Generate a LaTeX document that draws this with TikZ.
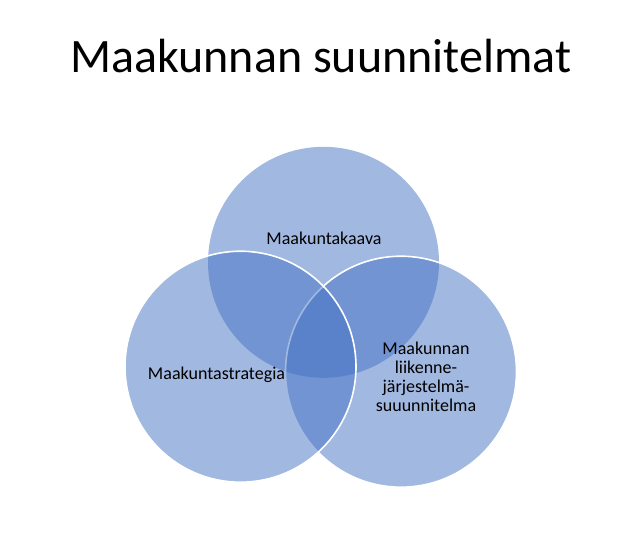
\documentclass[tikz,border=0pt]{standalone}
\usepackage{fontspec}
\setmainfont{Carlito}
\definecolor{vennblue}{HTML}{4472C4}
\begin{document}
\begin{tikzpicture}[x=1pt,y=-1pt,
  venn/.style={circle, inner sep=0pt, outer sep=0pt, minimum size=231pt, fill=vennblue, fill opacity=0.5},
  vennline/.style={draw=white, line width=1.6pt},
  lbl/.style={font=\fontsize{18}{19.2}\selectfont, text=black, inner sep=0pt}]
\useasboundingbox (0,0) rectangle (640,546);
\fill[white] (0,0) rectangle (640,546);
\node[font=\fontsize{48}{58}\selectfont, anchor=base, inner sep=0pt] (title) at (320.7,72) {Maakunnan suunnitelmat};
\node[venn] (top) at (323.5,262.3) {};
\node[venn, vennline] (right) at (401,371.7) {};
\node[venn, vennline] (left) at (240.5,366.7) {};
\node[lbl, anchor=base] (kaava) at (324,244) {Maakuntakaava};
\node[lbl, anchor=base] (strat) at (216.5,379.3) {Maakuntastrategia};
\node[lbl, anchor=base, align=center] (liik) at (426,411.7) {Maakunnan\\liikenne-\\järjestelmä-\\suuunnitelma};
\end{tikzpicture}
\end{document}
